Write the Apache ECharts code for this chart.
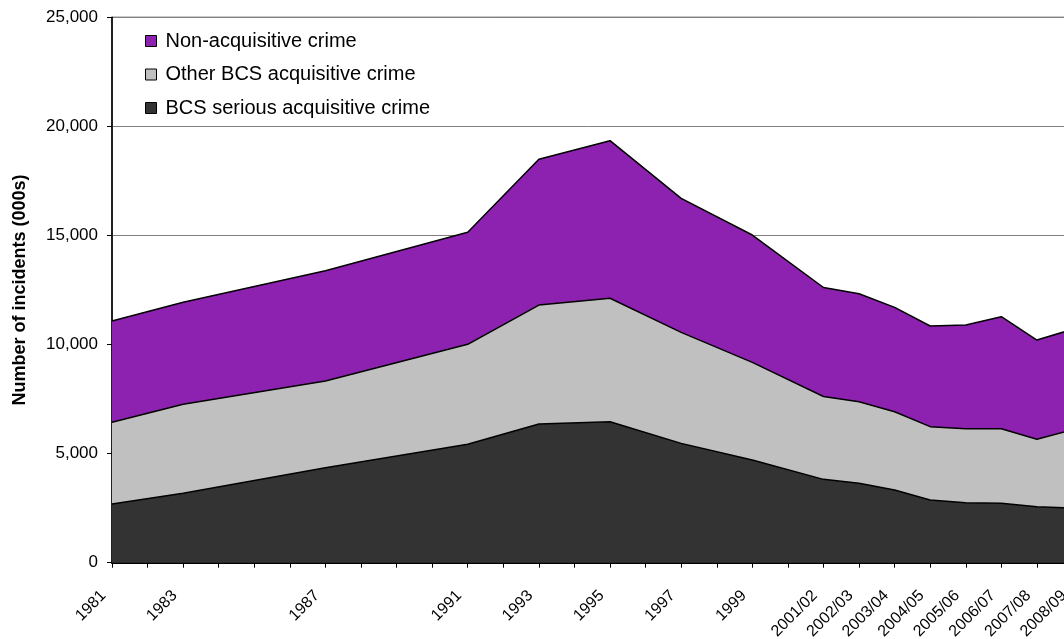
<!DOCTYPE html>
<html>
<head>
<meta charset="utf-8">
<script src="https://cdn.jsdelivr.net/npm/echarts@6/dist/echarts.min.js"></script>
<style>
html,body{margin:0;padding:0;background:#fff;}
#main{width:1064px;height:639px;}
</style>
</head>
<body>
<div id="main"></div>
<script>
// Axis categories (one per year; only survey years carry values and labels)
var categories = ['1981','1982','1983','1984','1985','1986','1987','1988','1989','1990',
  '1991','1992','1993','1994','1995','1996','1997','1998','1999','2000',
  '2001/02','2002/03','2003/04','2004/05','2005/06','2006/07','2007/08','2008/09'];

// Survey years that have data (these are the labelled ticks)
var surveyYears = ['1981','1983','1987','1991','1993','1995','1997','1999',
  '2001/02','2002/03','2003/04','2004/05','2005/06','2006/07','2007/08','2008/09'];

// Values in thousands of incidents, one per survey year
var seriousAcq = [2690,3180,4355,5430,6360,6460,5470,4710,3820,3640,3330,2870,2750,2720,2570,2510];
var otherAcq   = [3745,4080,3975,4580,5450,5660,5090,4475,3800,3740,3590,3365,3390,3420,3085,3590];
var nonAcq     = [4645,4675,5055,5135,6680,7225,6140,5835,4995,4950,4785,4615,4755,5135,4550,4600];

var yTicks = [0,5000,10000,15000,20000,25000];

var names = ['BCS serious acquisitive crime','Other BCS acquisitive crime','Non-acquisitive crime'];
var colors = ['#333333','#C0C0C0','#8E22B0'];
var FONT = '"Liberation Sans", Arial, sans-serif';

function pairs(vals){
  return surveyYears.map(function(y, i){ return [y, vals[i]]; });
}

function mkSeries(name, data, color){
  return {
    name: name, type: 'line', stack: 'total', data: pairs(data),
    symbol: 'none', smooth: false,
    lineStyle: {color: '#000', width: 1.5},
    itemStyle: {color: color, borderColor: '#000', borderWidth: 1},
    areaStyle: {color: color, opacity: 1},
    emphasis: {disabled: true}
  };
}

var chart = echarts.init(document.getElementById('main'), null, {renderer: 'canvas'});
chart.setOption({
  animation: false,
  backgroundColor: '#fff',
  textStyle: {fontFamily: FONT},
  grid: {left: 112, top: 17.3, bottom: 76.3, width: 960.5, show: true,
         borderColor: '#000', borderWidth: 1, backgroundColor: 'transparent',
         containLabel: false, outerBoundsMode: 'none'},
  legend: {
    orient: 'vertical', left: 145, top: 31, padding: 0,
    itemWidth: 11, itemHeight: 11, itemGap: 13.5,
    icon: 'rect',
    itemStyle: {borderColor: '#000', borderWidth: 1},
    textStyle: {fontFamily: FONT, fontSize: 20, color: '#000', lineHeight: 20, padding: [0,0,0,4]},
    data: [names[2], names[1], names[0]]
  },
  xAxis: {
    type: 'category', data: categories, boundaryGap: false,
    axisLine: {lineStyle: {color: '#000', width: 2}},
    axisTick: {show: true, interval: 0, length: 5, lineStyle: {color: '#000', width: 1}},
    axisLabel: {
      interval: function(i, v){ return surveyYears.indexOf(v) >= 0; },
      rotate: 45, margin: 22, padding: [0, 12, 0, 0],
      fontSize: 16, color: '#000', fontFamily: FONT
    },
    splitLine: {show: false}
  },
  yAxis: {
    type: 'value', min: yTicks[0], max: yTicks[yTicks.length-1], interval: 5000,
    name: 'Number of incidents (000s)', nameLocation: 'middle', nameGap: 83,
    nameTextStyle: {fontFamily: FONT, fontSize: 18, fontWeight: 'bold', color: '#000'},
    axisLine: {show: true, lineStyle: {color: '#000', width: 1.5}},
    axisTick: {show: true, length: 5, lineStyle: {color: '#000', width: 1}},
    axisLabel: {
      margin: 14, fontSize: 17, color: '#000', fontFamily: FONT,
      formatter: function(v){ return v.toString().replace(/\B(?=(\d{3})+(?!\d))/g, ','); }
    },
    splitLine: {show: true, lineStyle: {color: '#808080', width: 1}}
  },
  series: [
    mkSeries(names[0], seriousAcq, colors[0]),
    mkSeries(names[1], otherAcq, colors[1]),
    mkSeries(names[2], nonAcq, colors[2])
  ]
});
</script>
</body>
</html>
